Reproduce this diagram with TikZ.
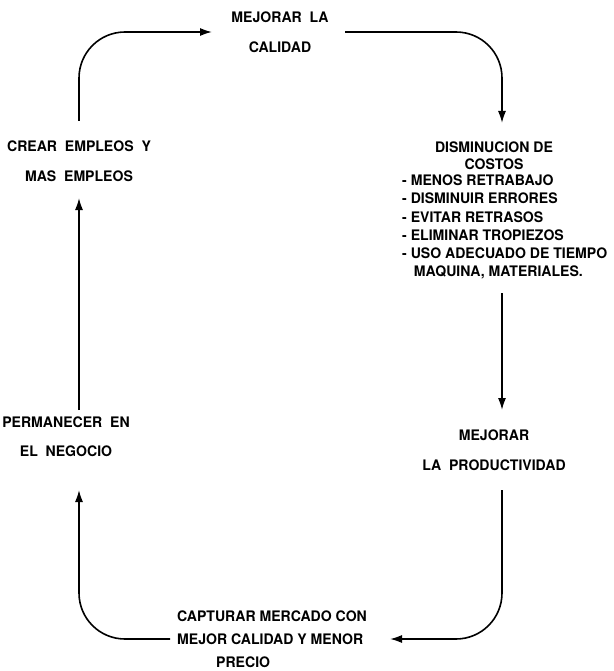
\documentclass[tikz,border=0pt]{standalone}
\usepackage{fontspec}
\setmainfont{TeX Gyre Heros}[FakeStretch=0.97]
\usepackage{tikz}
\usetikzlibrary{arrows.meta}

\begin{document}
\begin{tikzpicture}[x=1pt, y=-1pt,
	texto/.style={inner sep=0pt, align=center, font=\bfseries\fontsize{14.5}{18}\selectfont},
	flecha/.style={-{Latex[length=12pt,width=8pt]}, line width=1.6pt, rounded corners=46pt}]
	\useasboundingbox (0,0) rectangle (613,671);
	
	% Bloques de texto
	\node[texto] (calidad) at (280,32) {MEJORAR\ \ LA\\[12pt]CALIDAD};
	\node[texto] (crear) at (79,161) {CREAR\ \ EMPLEOS\ \ Y\\[12pt]MAS\ \ EMPLEOS};
	\node[texto] (costos) at (494,156) {DISMINUCION DE\\[-1pt]COSTOS};
	\node[texto, align=left, anchor=west, font=\bfseries\fontsize{14.5}{18.2}\selectfont] (lista) at (402,227)
		{- MENOS RETRABAJO\\- DISMINUIR ERRORES\\- EVITAR RETRASOS\\- ELIMINAR TROPIEZOS\\- USO ADECUADO DE TIEMPO\\\ \ \ MAQUINA, MATERIALES.};
	\node[texto] (productividad) at (494,450) {MEJORAR\\[12pt]LA\ \ PRODUCTIVIDAD};
	\node[texto, align=left, anchor=west] (captura) at (177,639)
		{CAPTURAR MERCADO CON\\[5pt]MEJOR CALIDAD Y MENOR\\[5pt]\hspace*{39pt}PRECIO};
	\node[texto] (permanecer) at (66,437) {PERMANECER\ \ EN\\[11pt]EL\ \ NEGOCIO};
	
	% Flechas del ciclo
	\draw[flecha, shorten <=40pt, shorten >=68pt] (crear.center) |- (calidad.center);
	\draw[flecha, shorten <=65pt, shorten >=33pt] (calidad.center) -| ([xshift=8pt]costos.center);
	\draw[flecha, shorten <=137pt, shorten >=40pt] ([xshift=8pt]costos.center) -- ([xshift=8pt]productividad.center);
	\draw[flecha, shorten <=40pt, shorten >=213pt] ([xshift=8pt]productividad.center) |- (captura.west);
	\draw[flecha, shorten <=7pt, shorten >=53pt] (captura.west) -| ([xshift=13pt]permanecer.center);
	\draw[flecha, shorten <=27pt, shorten >=37pt] ([xshift=13pt]permanecer.center) -- (crear.center);
\end{tikzpicture}
\end{document}
